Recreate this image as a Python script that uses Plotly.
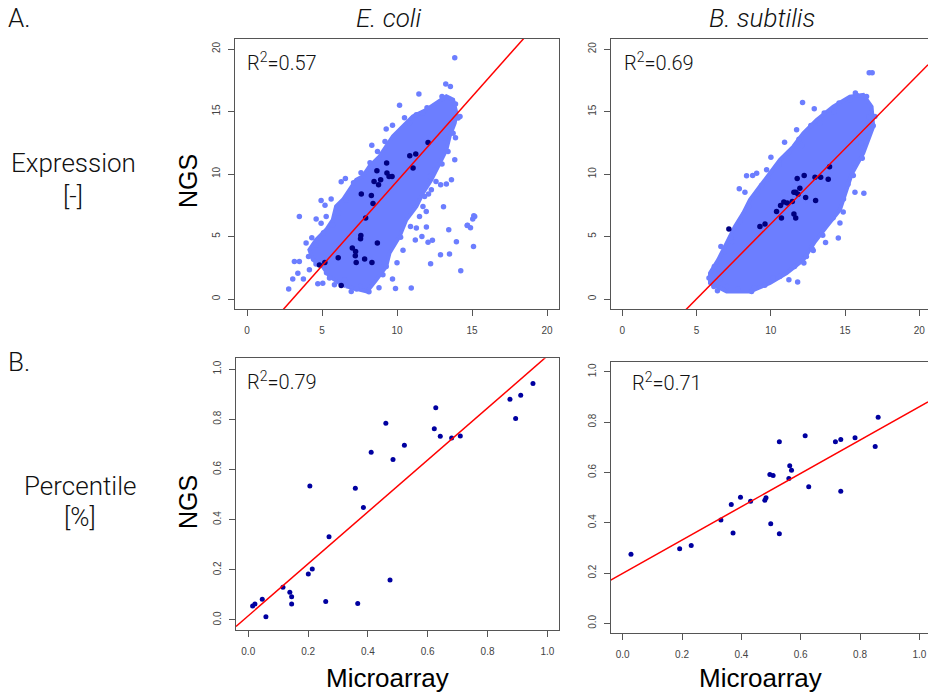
import plotly.graph_objects as go

W, H = 928, 693

# ---------------- data ----------------
# Top-left: E. coli expression. Dense core outline + individual scattered points
ecoli_core_x = [6.61, 8.0, 8.62, 9.28, 9.5, 10.17, 10.62, 11.29, 11.73, 12.29, 12.85, 13.29, 13.51, 13.85, 13.96,
                13.74, 13.29, 12.62, 11.96, 11.06, 10.4, 9.73, 9.28, 8.84, 8.17, 7.72, 7.28, 6.83, 6.39, 5.94,
                5.72, 5.28, 4.61, 4.16, 4.39, 5.05, 5.5, 6.17]
ecoli_core_y = [1.01, 0.6, 1.54, 2.6, 3.68, 5.02, 6.34, 7.41, 8.48, 9.54, 10.88, 11.94, 13.01, 14.08, 14.88,
                15.94, 16.21, 15.68, 15.14, 14.61, 13.81, 13.01, 12.21, 11.41, 10.61, 9.81, 9.54, 8.74, 7.94, 7.41,
                6.34, 5.54, 4.74, 3.94, 3.14, 2.6, 1.81, 1.28]
ecoli_expr_x = [3.49, 13.25, 13.56, 11.46, 10.17, 15.18, 15.05, 14.7, 14.9, 15.1, 14.25, 13.5, 13.45, 12.24, 12.07,
                12.36, 11.66, 11.29, 11.96, 11.22, 10.95, 9.9, 13.1, 10.24, 9.28, 8.32, 6.28, 6.56, 5.61, 4.94,
                5.2, 4.61, 5.28, 4.94, 3.94, 4.32, 3.16, 3.49, 2.78, 3.05, 3.39, 3.76, 4.16, 4.72, 5.05,
                5.5, 5.83, 6.95, 8.13, 7.55, 9.06, 9.28, 8.84, 13.29, 12.91, 13.63, 13.85, 12.51, 12.18, 12.29,
                11.84, 11.73, 11.06, 11.95, 13.2, 13.74, 14.07, 13.74, 11.74, 11.29, 10.84, 13.85, 15.12, 13.96, 12.9,
                14.68, 9.7, 10.5, 12.0, 13.0, 13.9, 14.2, 13.9, 13.4, 13.0, 12.6, 12.1, 11.5, 10.9, 10.4,
                10.0, 9.7, 8.8, 7.3, 6.5, 5.3, 4.6, 4.1, 4.6, 5.1, 5.7, 6.1, 6.6, 7.1, 7.6,
                8.2, 8.7, 9.2]
ecoli_expr_y = [6.61, 17.2, 17.0, 16.4, 15.5, 6.6, 6.4, 5.9, 5.7, 4.2, 2.26, 3.6, 5.55, 2.82, 4.55,
                4.7, 5.0, 5.68, 5.76, 4.72, 0.88, 0.85, 7.38, 4.95, 13.6, 12.3, 9.38, 9.65, 8.0, 7.89,
                7.5, 6.4, 6.6, 6.06, 4.48, 4.9, 3.0, 3.0, 0.8, 1.6, 2.07, 1.6, 2.34, 1.22, 1.27,
                1.68, 1.14, 0.61, 0.58, 1.0, 1.94, 2.6, 2.9, 9.2, 9.14, 9.54, 11.14, 10.34, 9.8, 8.75,
                8.2, 7.4, 7.67, 7.0, 12.87, 13.27, 14.48, 14.88, 14.88, 14.74, 14.08, 19.3, 6.67, 4.59, 3.55,
                5.89, 13.9, 14.5, 15.3, 16.2, 15.6, 14.6, 12.9, 11.8, 10.8, 9.4, 8.4, 6.6, 5.8, 3.9,
                2.9, 1.6, 0.9, 0.8, 1.5, 2.1, 2.8, 3.4, 4.3, 5.3, 5.9, 6.9, 7.9, 9.3, 10.1,
                10.9, 11.8, 12.6]
ecoli_sel_x = [12.07, 10.85, 11.25, 11.07, 9.31, 9.33, 9.47, 9.67, 8.66, 8.47, 8.77, 8.91, 7.62, 8.29, 8.4,
               7.91, 7.59, 7.57, 8.69, 7.02, 7.24, 7.22, 7.28, 7.84, 8.33, 6.08, 4.83, 5.19, 6.28]
ecoli_sel_y = [12.53, 11.47, 11.6, 10.48, 10.88, 10.08, 9.81, 9.81, 10.27, 9.41, 9.15, 9.55, 8.4, 8.29, 7.65,
               6.48, 5.09, 4.83, 4.48, 4.08, 3.81, 3.47, 2.93, 3.2, 2.93, 3.31, 2.72, 2.93, 1.09]
ecoli_expr_fit = [-4.11, 1.3525]   # intercept, slope
ecoli_expr_r2 = "0.57"

# Top-right: B. subtilis expression
bsub_core_x = [16.9, 16.23, 15.45, 15.0, 14.66, 13.76, 12.98, 12.19, 11.07, 9.95, 8.6, 7.03, 5.91, 5.91,
               6.46, 7.03, 7.59, 8.15, 8.6, 9.27, 9.95, 10.62, 11.52, 12.19, 13.09, 14.21, 15.33, 16.23, 16.79]
bsub_core_y = [13.81, 11.68, 10.0, 8.48, 7.14, 5.81, 4.61, 3.14, 2.08, 1.28, 0.61, 0.61, 1.28, 2.08,
               3.14, 4.48, 5.81, 6.88, 7.94, 9.01, 10.08, 11.14, 12.21, 13.28, 14.34, 15.41, 16.21, 16.35, 15.41]
bsub_expr_x = [16.63, 16.83, 12.14, 12.93, 14.25, 10.93, 12.08, 10.01, 10.57, 8.37, 8.78, 7.88, 8.26, 9.38,
               15.67, 14.55, 15.56, 14.88, 14.66, 11.22, 11.81, 10.17, 8.71, 5.84, 6.17, 6.41, 7.07, 6.46,
               6.64, 7.41, 12.23, 12.86, 13.69, 16.27, 16.16, 15.85, 17.01, 16.9, 16.45, 15.78, 15.33, 13.31,
               11.74, 9.72, 9.05, 16.6, 16.1, 15.6, 15.2, 14.9, 14.2, 13.5, 12.8, 12.4, 11.6, 10.6, 9.6,
               8.9, 7.8, 6.6, 6.2, 6.9, 7.3, 7.9, 8.5, 9.1, 9.8, 10.4, 11.2, 11.9, 12.7, 13.6, 14.6, 15.7]
bsub_expr_y = [18.13, 18.13, 15.73, 15.23, 14.96, 12.56, 12.29, 11.36, 10.75, 9.87, 9.89, 8.83, 8.56, 9.09,
               8.56, 4.88, 9.89, 6.96, 6.08, 1.55, 1.36, 1.68, 0.61, 1.68, 1.01, 0.67, 1.01, 2.43,
               4.21, 4.61, 2.88, 3.89, 4.53, 8.48, 11.28, 12.21, 14.61, 13.87, 16.21, 16.32, 15.95, 14.08,
               13.55, 10.35, 10.08, 14.6, 12.5, 10.9, 9.2, 8.0, 6.5, 5.1, 4.0, 3.4, 2.6, 1.8, 1.1,
               0.9, 0.8, 1.6, 2.6, 3.8, 4.9, 6.2, 7.4, 8.4, 9.6, 10.6, 11.7, 12.8, 13.9, 14.9, 15.7, 16.5]
bsub_sel_x = [7.18, 9.27, 9.61, 10.39, 10.66, 10.88, 11.11, 11.45, 10.72, 11.56, 11.68, 11.56, 11.68, 11.96,
              11.84, 12.35, 11.78, 12.25, 13.02, 12.98, 13.36, 13.87, 13.96]
bsub_sel_y = [5.6, 5.81, 6.0, 7.01, 7.49, 7.76, 7.68, 7.81, 6.48, 6.8, 6.48, 8.56, 8.56, 8.88,
              8.4, 8.13, 9.65, 9.89, 7.89, 9.76, 9.76, 9.6, 10.59]
bsub_expr_fit = [-6.01, 1.203]
bsub_expr_r2 = "0.69"

# Bottom-left: E. coli percentile
ecoli_pct_x = [0.0145, 0.0223, 0.0468, 0.059, 0.116, 0.139, 0.145, 0.145, 0.2007, 0.214, 0.206, 0.259, 0.27,
               0.358, 0.366, 0.385, 0.411, 0.46, 0.474, 0.484, 0.522, 0.622, 0.627, 0.642, 0.68, 0.709,
               0.875, 0.894, 0.911, 0.952]
ecoli_pct_y = [0.0558, 0.0637, 0.0823, 0.0133, 0.13, 0.11, 0.093, 0.064, 0.183, 0.203, 0.534, 0.074, 0.332,
               0.525, 0.066, 0.448, 0.669, 0.784, 0.159, 0.64, 0.696, 0.762, 0.846, 0.732, 0.725, 0.733,
               0.88, 0.803, 0.896, 0.943]
ecoli_pct_fit = [0.0164, 1.036]
ecoli_pct_r2 = "0.79"

# Bottom-right: B. subtilis percentile
bsub_pct_x = [0.028, 0.192, 0.231, 0.331, 0.366, 0.372, 0.397, 0.431, 0.479, 0.483, 0.496, 0.499, 0.507,
              0.528, 0.528, 0.56, 0.563, 0.569, 0.615, 0.627, 0.717, 0.735, 0.735, 0.783, 0.851, 0.861]
bsub_pct_y = [0.275, 0.297, 0.31, 0.411, 0.472, 0.359, 0.501, 0.485, 0.489, 0.499, 0.592, 0.396, 0.588,
              0.722, 0.356, 0.576, 0.626, 0.609, 0.746, 0.543, 0.722, 0.731, 0.525, 0.738, 0.703, 0.819]
bsub_pct_fit = [0.1985, 0.663]
bsub_pct_r2 = "0.71"

expr_ticks = [0, 5, 10, 15, 20]
pct_ticks = [0.0, 0.2, 0.4, 0.6, 0.8, 1.0]
pct_ticklabels = ["0.0", "0.2", "0.4", "0.6", "0.8", "1.0"]

# ---------------- styling ----------------
LIGHT = "rgb(108,126,255)"
DARK_TOP = "rgb(0,0,128)"
DARK_BOT = "rgb(0,0,160)"
FRAME = "#555555"
TICKFONT = dict(family="Liberation Sans", size=10, color="#444444")
LABEL_FAMILY = "Roboto"

def px2x(px):
    return px / W

def py2y(py):
    return 1 - py / H

panels = {
    "tl": dict(xd=[235, 559], yd=[39, 309], xr=[-0.8, 20.8], yr=[-0.8, 20.8], box=True),
    "tr": dict(xd=[610.7, 928], yd=[39.3, 309], xr=[-0.78, 20.59], yr=[-0.8, 20.8], box=False),
    "bl": dict(xd=[236, 559.3], yd=[358.3, 630], xr=[-0.041, 1.04], yr=[-0.04, 1.043], box=True),
    "br": dict(xd=[610.7, 928], yd=[361.7, 632.7], xr=[-0.0404, 1.029], yr=[-0.037, 1.04], box=False),
}
axis_ids = {"tl": ("x", "y"), "tr": ("x2", "y2"), "bl": ("x3", "y3"), "br": ("x4", "y4")}

fig = go.Figure()

def add_expr(key, core_x, core_y, pts_x, pts_y, sel_x, sel_y, fit):
    xa, ya = axis_ids[key]
    fig.add_trace(go.Scatter(x=core_x + core_x[:1], y=core_y + core_y[:1], mode="lines", fill="toself",
                             fillcolor=LIGHT, line=dict(color=LIGHT, width=4), xaxis=xa, yaxis=ya,
                             hoverinfo="skip", showlegend=False))
    fig.add_trace(go.Scatter(x=pts_x, y=pts_y, mode="markers", marker=dict(color=LIGHT, size=5.5),
                             xaxis=xa, yaxis=ya, showlegend=False))
    fig.add_trace(go.Scatter(x=sel_x, y=sel_y, mode="markers", marker=dict(color=DARK_TOP, size=5.5),
                             xaxis=xa, yaxis=ya, showlegend=False))
    xr = panels[key]["xr"]
    fig.add_trace(go.Scatter(x=xr, y=[fit[0] + fit[1] * v for v in xr], mode="lines",
                             line=dict(color="red", width=1.5), xaxis=xa, yaxis=ya, showlegend=False))

def add_pct(key, pts_x, pts_y, fit):
    xa, ya = axis_ids[key]
    fig.add_trace(go.Scatter(x=pts_x, y=pts_y, mode="markers", marker=dict(color=DARK_BOT, size=5),
                             xaxis=xa, yaxis=ya, showlegend=False))
    xr = panels[key]["xr"]
    fig.add_trace(go.Scatter(x=xr, y=[fit[0] + fit[1] * v for v in xr], mode="lines",
                             line=dict(color="red", width=1.5), xaxis=xa, yaxis=ya, showlegend=False))

add_expr("tl", ecoli_core_x, ecoli_core_y, ecoli_expr_x, ecoli_expr_y, ecoli_sel_x, ecoli_sel_y, ecoli_expr_fit)
add_expr("tr", bsub_core_x, bsub_core_y, bsub_expr_x, bsub_expr_y, bsub_sel_x, bsub_sel_y, bsub_expr_fit)
add_pct("bl", ecoli_pct_x, ecoli_pct_y, ecoli_pct_fit)
add_pct("br", bsub_pct_x, bsub_pct_y, bsub_pct_fit)

layout = dict(width=W, height=H, margin=dict(l=0, r=0, t=0, b=0), paper_bgcolor="white",
              plot_bgcolor="white", showlegend=False)

for key, p in panels.items():
    xa, ya = axis_ids[key]
    xname = "xaxis" + xa[1:]
    yname = "yaxis" + ya[1:]
    is_expr = key in ("tl", "tr")
    common = dict(showgrid=False, zeroline=False, showline=True, linecolor=FRAME, linewidth=1,
                  ticks="outside", ticklen=6, tickcolor=FRAME, tickwidth=1, tickfont=TICKFONT)
    if is_expr:
        tk = dict(tickmode="array", tickvals=expr_ticks, ticktext=[str(v) for v in expr_ticks])
    else:
        tk = dict(tickmode="array", tickvals=pct_ticks, ticktext=pct_ticklabels)
    layout[xname] = dict(domain=[px2x(p["xd"][0]), min(1.0, px2x(p["xd"][1]))], range=p["xr"],
                         anchor=ya, mirror=True, ticklabelstandoff=6, **common, **tk)
    layout[yname] = dict(domain=[py2y(p["yd"][1]), py2y(p["yd"][0])], range=p["yr"], anchor=xa,
                         mirror=p["box"], tickangle=-90, ticklabelstandoff=4, **common, **tk)

fig.update_layout(**layout)

ann = []
def text(px, py, s, size=22, family=LABEL_FAMILY, xanchor="center", angle=0, color="#111111", italic=False, weight="normal"):
    ann.append(dict(x=px2x(px), y=py2y(py), xref="paper", yref="paper", text=s, showarrow=False,
                    xanchor=xanchor, yanchor="middle", textangle=angle,
                    font=dict(family=family, size=size, color=color, style="italic" if italic else "normal",
                              weight=weight)))

text(6, 18, "A.", size=26, xanchor="left", weight=300)
text(6, 362, "B.", size=26, xanchor="left", weight=300)
text(388, 18, "E. coli", size=26, italic=True, weight=300)
text(762, 18, "B. subtilis", size=26, italic=True, weight=300)
text(73, 163, "Expression", size=26, weight=300)
text(73, 196, "[-]", size=26, weight=300)
text(80, 486, "Percentile", size=26, weight=300)
text(80, 517, "[%]", size=26, weight=300)
text(188, 181, "NGS", size=25, family="Liberation Sans", angle=-90, color="black")
text(188, 502, "NGS", size=25, family="Liberation Sans", angle=-90, color="black")
text(387, 678, "Microarray", size=26, family="Liberation Sans", color="black")
text(760, 678, "Microarray", size=26, family="Liberation Sans", color="black")
text(245, 62, "R<sup>2</sup>=" + ecoli_expr_r2, size=20, xanchor="left", weight=300)
text(622, 62, "R<sup>2</sup>=" + bsub_expr_r2, size=20, xanchor="left", weight=300)
text(245, 381, "R<sup>2</sup>=" + ecoli_pct_r2, size=20, xanchor="left", weight=300)
text(630, 382, "R<sup>2</sup>=" + bsub_pct_r2, size=20, xanchor="left", weight=300)
fig.update_layout(annotations=ann)

fig.write_html("out.html")
